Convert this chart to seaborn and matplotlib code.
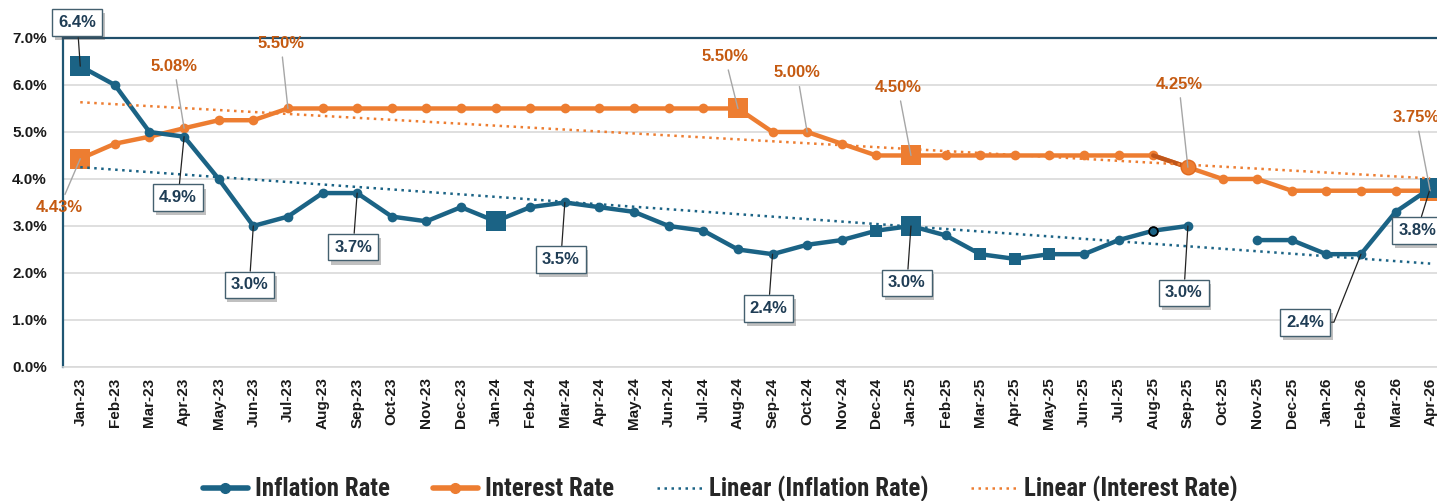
import numpy as np
import pandas as pd
import matplotlib
matplotlib.use("Agg")
import matplotlib.pyplot as plt
import seaborn as sns
from matplotlib import font_manager
from matplotlib.font_manager import FontProperties
from matplotlib.lines import Line2D
import matplotlib.patheffects as pe

# ---------------- data ----------------
months = ["Jan-23", "Feb-23", "Mar-23", "Apr-23", "May-23", "Jun-23", "Jul-23", "Aug-23",
          "Sep-23", "Oct-23", "Nov-23", "Dec-23", "Jan-24", "Feb-24", "Mar-24", "Apr-24",
          "May-24", "Jun-24", "Jul-24", "Aug-24", "Sep-24", "Oct-24", "Nov-24", "Dec-24",
          "Jan-25", "Feb-25", "Mar-25", "Apr-25", "May-25", "Jun-25", "Jul-25", "Aug-25",
          "Sep-25", "Oct-25", "Nov-25", "Dec-25", "Jan-26", "Feb-26", "Mar-26", "Apr-26"]
inflation = [6.4, 6.0, 5.0, 4.9, 4.0, 3.0, 3.2, 3.7, 3.7, 3.2, 3.1, 3.4,
             3.1, 3.4, 3.5, 3.4, 3.3, 3.0, 2.9, 2.5, 2.4, 2.6, 2.7, 2.9,
             3.0, 2.8, 2.4, 2.3, 2.4, 2.4, 2.7, 2.9, 3.0, np.nan, 2.7, 2.7,
             2.4, 2.4, 3.3, 3.8]
interest = [4.43, 4.75, 4.9, 5.08, 5.25, 5.25, 5.5, 5.5, 5.5, 5.5, 5.5, 5.5,
            5.5, 5.5, 5.5, 5.5, 5.5, 5.5, 5.5, 5.5, 5.0, 5.0, 4.75, 4.5,
            4.5, 4.5, 4.5, 4.5, 4.5, 4.5, 4.5, 4.5, 4.25, 4.0, 4.0, 3.75,
            3.75, 3.75, 3.75, 3.75]
yticks = [0, 1, 2, 3, 4, 5, 6, 7]

# highlighted points (styles)
infl_big_sq = ["Jan-23", "Jan-24", "Jan-25", "Apr-26"]
infl_small_sq = ["Dec-24", "Mar-25", "Apr-25", "May-25"]
infl_ring = ["Aug-25"]
int_big_sq = ["Jan-23", "Aug-24", "Jan-25", "Apr-26"]
int_big_dot = ["Sep-25"]
int_dark_seg = ["Aug-25", "Sep-25"]

# labels: (month, text, offset px)
infl_labels = [("Jan-23", "6.4%", (-3, 44)), ("Apr-23", "4.9%", (-6, -61)),
               ("Jun-23", "3.0%", (-4, -59)), ("Sep-23", "3.7%", (-4, -54)),
               ("Mar-24", "3.5%", (-4, -57)), ("Sep-24", "2.4%", (-4, -54)),
               ("Jan-25", "3.0%", (-4, -57)), ("Sep-25", "3.0%", (-4, -67)),
               ("Feb-26", "2.4%", (-56, -68)), ("Apr-26", "3.8%", (-13, -42))]
int_labels = [("Jan-23", "4.43%", (-21, -49)), ("Apr-23", "5.08%", (-10, 62)),
              ("Jul-23", "5.50%", (-7, 65)), ("Aug-24", "5.50%", (-13, 52)),
              ("Oct-24", "5.00%", (-10, 59)), ("Jan-25", "4.50%", (-13, 68)),
              ("Sep-25", "4.25%", (-9, 83)), ("Apr-26", "3.75%", (-14, 73))]
legend_labels = ["Inflation Rate", "Interest Rate", "Linear (Inflation Rate)",
                 "Linear (Interest Rate)"]

# ---------------- style ----------------
TEAL = "#1B6385"
ORANGE = "#ED7D31"
ORANGE_TXT = "#C55A11"
BOX_TXT = "#1F3D55"
GRID = "#D9D9D9"

sns.set_theme(style="white")
avail = {f.name for f in font_manager.fontManager.ttflist}
base_font = "Liberation Sans" if "Liberation Sans" in avail else "DejaVu Sans"
plt.rcParams["font.family"] = [base_font, "DejaVu Sans"]

# condensed bold face for the legend (like Excel's narrow font)
LEG_SIZE = 18
legend_prop = FontProperties(family=[base_font, "DejaVu Sans"], weight="bold", size=15)
for fam in ["Liberation Sans Narrow", "Roboto Condensed", "Asap Condensed", "Archivo Narrow"]:
    bold = [f for f in font_manager.fontManager.ttflist
            if f.name == fam and f.weight in (700, "bold") and f.style == "normal"]
    if bold:
        legend_prop = FontProperties(fname=bold[0].fname, size=LEG_SIZE)
        break

x = np.arange(len(months))
idx = {m: i for i, m in enumerate(months)}
infl_arr = np.array(inflation, dtype=float)
int_arr = np.array(interest, dtype=float)

seg = np.cumsum(np.isnan(infl_arr))
df_infl = pd.DataFrame({"x": x, "v": infl_arr, "seg": seg}).dropna()
df_int = pd.DataFrame({"x": x, "v": int_arr, "seg": 0})

fig = plt.figure(figsize=(14.37, 5.01), dpi=100)
ax = fig.add_axes([0.0438, 0.2675, 0.9635, 0.6567])

sns.lineplot(data=df_int, x="x", y="v", units="seg", estimator=None, color=ORANGE,
             lw=3.2, marker="o", markersize=7, markeredgewidth=0, ax=ax, zorder=3)
dseg = df_int[df_int["x"].isin([idx[m] for m in int_dark_seg])]
sns.lineplot(data=dseg, x="x", y="v", color="#C0561A", lw=3.2, ax=ax, zorder=3.1)
sns.lineplot(data=df_infl, x="x", y="v", units="seg", estimator=None, color=TEAL,
             lw=3.2, marker="o", markersize=7, markeredgewidth=0, ax=ax, zorder=4)

def pts(arr, names):
    return pd.DataFrame({"x": [idx[m] for m in names], "v": [arr[idx[m]] for m in names]})

sns.scatterplot(data=pts(int_arr, int_big_sq), x="x", y="v", marker="s", s=190,
                color=ORANGE, edgecolor=ORANGE, linewidth=0, ax=ax, zorder=5)
sns.scatterplot(data=pts(int_arr, int_big_dot), x="x", y="v", marker="o", s=110,
                color=ORANGE, edgecolor="#E06A20", linewidth=1, ax=ax, zorder=5)
sns.scatterplot(data=pts(infl_arr, infl_big_sq), x="x", y="v", marker="s", s=190,
                color=TEAL, linewidth=0, ax=ax, zorder=6)
sns.scatterplot(data=pts(infl_arr, infl_small_sq), x="x", y="v", marker="s", s=65,
                color=TEAL, linewidth=0, ax=ax, zorder=6)
sns.scatterplot(data=pts(infl_arr, infl_ring), x="x", y="v", marker="o", s=40,
                color=TEAL, edgecolor="black", linewidth=1.3, ax=ax, zorder=6)

df_tr_i = pd.DataFrame({"x": x, "v": infl_arr}).dropna()
sns.regplot(data=df_tr_i, x="x", y="v", scatter=False, ci=None, truncate=True, ax=ax,
            line_kws=dict(color=TEAL, lw=1.8, ls=(0, (1, 1.8)), zorder=7))
sns.regplot(data=df_int, x="x", y="v", scatter=False, ci=None, truncate=True, ax=ax,
            line_kws=dict(color=ORANGE, lw=1.8, ls=(0, (1, 1.8)), zorder=7))

ax.set_xlim(-0.5, len(months) - 0.5)
ax.set_ylim(0, 7)
ax.set_yticks(yticks)
ax.set_yticklabels([f"{t:.1f}%" for t in yticks], fontsize=11, fontweight="bold", color="#1A1A1A")
ax.set_xticks(x)
ax.set_xticklabels(months, rotation=90, fontsize=11, fontweight="bold", color="#1A1A1A")
ax.tick_params(axis="y", length=0, pad=11.5)
ax.tick_params(axis="x", length=0, pad=7.5)
ax.set_xlabel("")
ax.set_ylabel("")
ax.grid(axis="y", color=GRID, lw=1.2)
ax.set_axisbelow(True)
ax.spines["left"].set_color("#1F5673")
ax.spines["left"].set_linewidth(1.6)
ax.spines["top"].set_color("#1F4E6A")
ax.spines["top"].set_linewidth(1.6)
ax.spines["bottom"].set_color(GRID)
ax.spines["bottom"].set_linewidth(1.2)
ax.spines["right"].set_visible(False)

for m, txt, off in infl_labels:
    i = idx[m]
    relpos = (1, 0.5) if m == "Feb-26" else (0.5, 0.5)
    cs = "arc,angleA=0,armA=10,angleB=0,armB=0,rad=0" if m == "Feb-26" else "arc3"
    a = ax.annotate(txt, xy=(i, infl_arr[i]), xytext=off, textcoords="offset pixels",
                    ha="center", va="center", fontsize=12, fontweight="bold", color=BOX_TXT,
                    bbox=dict(boxstyle="square,pad=0.35", fc="white", ec="#44606F", lw=1.0),
                    arrowprops=dict(arrowstyle="-", color="#222222", lw=0.9, shrinkA=0,
                                    shrinkB=0, relpos=relpos, connectionstyle=cs),
                    annotation_clip=False, zorder=10)
    a.get_bbox_patch().set_path_effects([pe.SimplePatchShadow(offset=(2, -3), alpha=0.35),
                                         pe.Normal()])
for m, txt, off in int_labels:
    i = idx[m]
    ax.annotate(txt, xy=(i, int_arr[i]), xytext=off, textcoords="offset pixels",
                ha="center", va="center", fontsize=12, fontweight="bold", color=ORANGE_TXT,
                arrowprops=dict(arrowstyle="-", color="#A6A6A6", lw=1.0, shrinkA=2, shrinkB=0),
                annotation_clip=False, zorder=10)

handles = [Line2D([], [], color=TEAL, lw=4, marker="o", markersize=7),
           Line2D([], [], color=ORANGE, lw=4, marker="o", markersize=7),
           Line2D([], [], color=TEAL, lw=1.8, ls=(0, (1, 1.8))),
           Line2D([], [], color=ORANGE, lw=1.8, ls=(0, (1, 1.8)))]
fig.legend(handles, legend_labels, loc="center", bbox_to_anchor=(720 / 1437, 1 - 489 / 501),
           ncol=4, frameon=False, handlelength=1.8, handletextpad=0.3, columnspacing=1.7,
           numpoints=1, prop=legend_prop)

fig.savefig("out.png", dpi=100)
